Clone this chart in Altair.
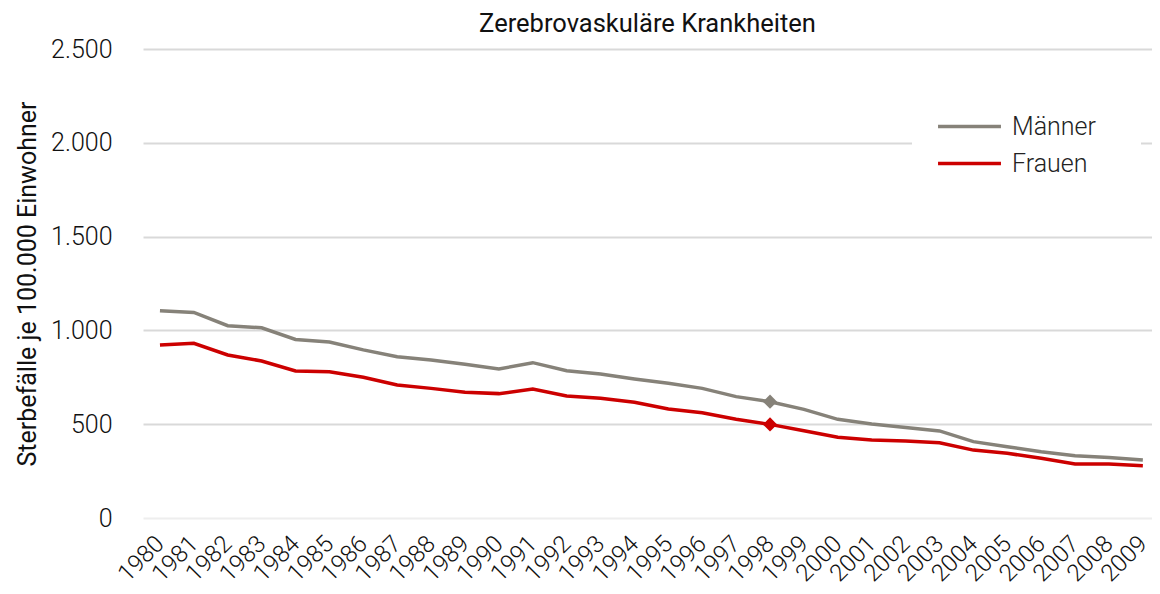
import altair as alt
import pandas as pd

years = list(range(1980, 2010))
maenner = [1105, 1096, 1025, 1014, 952, 938, 896, 860, 842, 819, 794, 828,
           785, 768, 741, 718, 691, 647, 620, 579, 526, 501, 483, 464, 407,
           380, 353, 332, 323, 309]
frauen = [922, 931, 869, 837, 784, 780, 750, 709, 691, 670, 663, 687,
          650, 638, 617, 581, 561, 526, 499, 465, 430, 416, 410, 401, 362,
          345, 318, 288, 288, 279]
series = ["Männer", "Frauen"]
colors = ["#868279", "#cc0000"]
marked_year = 1998

rows = []
for y, m, f in zip(years, maenner, frauen):
    rows.append({"Jahr": y, "Wert": m, "Serie": "Männer"})
    rows.append({"Jahr": y, "Wert": f, "Serie": "Frauen"})
df = pd.DataFrame(rows)

FONT = "Roboto"

x = alt.X("Jahr:Q", title=None,
          scale=alt.Scale(domain=[1979.5, 2009.27], nice=False, zero=False),
          axis=alt.Axis(values=years, format="d", labelAngle=-45, labelAlign="right",
                        labelBaseline="middle", labelFontSize=24, labelColor="#111",
                        labelPadding=22, ticks=False, domain=False, grid=False,
                        labelFont=FONT, labelFontWeight=300, labelFlush=False,
                        labelOverlap=False))
y = alt.Y("Wert:Q", title="Sterbefälle je 100.000 Einwohner",
          scale=alt.Scale(domain=[0, 2500]),
          axis=alt.Axis(values=[0, 500, 1000, 1500, 2000, 2500],
                        labelExpr="replace(format(datum.value, ','), ',', '.')",
                        labelFontSize=25, labelColor="#111", labelPadding=31,
                        ticks=False, domain=False,
                        gridColor=alt.condition("datum.value == 0", alt.value("#eeeeee"), alt.value("#d9d9d9")),
                        gridWidth=2, titleFontSize=25, titleFontWeight="normal",
                        titleColor="#111", titlePadding=10, labelFont=FONT,
                        titleFont=FONT, labelFontWeight=300))
color = alt.Color("Serie:N", scale=alt.Scale(domain=series, range=colors),
                  legend=alt.Legend(title=None, orient="none", legendX=769, legendY=20,
                                    symbolType="M-3,0L3,0", symbolStrokeWidth=3.5,
                                    symbolSize=440, labelFontSize=25, labelColor="#222",
                                    labelFont=FONT, labelFontWeight=300,
                                    labelExpr="datum.label + '\u00a0\u00a0\u00a0\u00a0\u00a0\u00a0\u00a0\u00a0\u00a0\u00a0\u00a0'",
                                    fillColor="white", padding=45, rowPadding=11,
                                    labelOffset=30))

lines = alt.Chart(df).mark_line(strokeWidth=3.5).encode(x=x, y=y, color=color,
                                                        order=alt.Order("Jahr:Q"))
pts = alt.Chart(df).transform_filter(alt.datum.Jahr == marked_year).mark_point(
    shape="diamond", filled=True, size=200, opacity=1).encode(
    x=x, y=y, color=alt.Color("Serie:N", scale=alt.Scale(domain=series, range=colors), legend=None))

chart = (lines + pts).properties(
    width=1009, height=469, background="white",
    autosize=alt.AutoSizeParams(type="none"),
    padding={"left": 135, "top": 41, "right": 0, "bottom": 68},
    title=alt.TitleParams("Zerebrovaskuläre Krankheiten", fontSize=25.5, fontWeight="normal",
                          font=FONT, color="#111", offset=0),
).configure_view(stroke=None)

chart.save("out.html", embed_options={"renderer": "svg", "actions": False})
